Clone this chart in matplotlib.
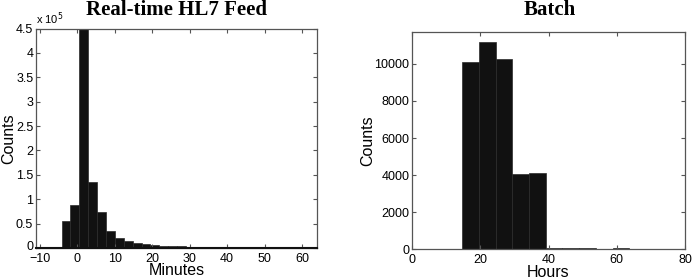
import numpy as np
import matplotlib
matplotlib.use("Agg")
import matplotlib.pyplot as plt
import matplotlib.transforms as mtransforms
from matplotlib.ticker import FuncFormatter

# ---- Data: Real-time HL7 feed (minutes) ----
rt_start = -4.17
rt_width = 2.37
rt_counts = [55000, 89000, 470000, 135500, 73300, 34200, 19800, 14400, 10000,
             8000, 6500, 5000, 4000, 3300, 2700, 2200, 1800, 1500, 1200, 1000,
             900, 800, 700, 600, 500, 400, 350, 300, 250]
rt_xticks = [-10, 0, 10, 20, 30, 40, 50, 60]
rt_yticks = [0, 50000, 100000, 150000, 200000, 250000, 300000, 350000, 400000, 450000]

# ---- Data: Batch (hours) ----
b_start = 0.0
b_width = 4.9
b_counts = [30, 0, 0, 10090, 11170, 10250, 4050, 4100, 70, 60, 90, 20, 50, 40, 20]
b_xticks = [0, 20, 40, 60, 80]
b_yticks = [0, 2000, 4000, 6000, 8000, 10000]

bar_color = '#111111'
spine_color = '#555555'
tick_font = 'Liberation Sans'

fig = plt.figure(figsize=(6.93, 2.8), dpi=100)
ax1 = fig.add_axes([36/693, 1-248/280, (317-36)/693, (248-28.5)/280])
ax2 = fig.add_axes([412/693, 1-249.3/280, (685-412)/693, (249.3-32.3)/280])

def style(ax):
    ax.tick_params(direction='in', top=True, right=True, length=3, width=0.8,
                   color=spine_color, labelsize=9, pad=2)
    ax.tick_params(axis='x', pad=3.5)
    for s in ax.spines.values():
        s.set_color(spine_color)
        s.set_linewidth(0.9)
    for lab in ax.get_xticklabels() + ax.get_yticklabels():
        lab.set_fontfamily(tick_font)

# Left histogram
rt_edges = rt_start + rt_width * np.arange(len(rt_counts))
ax1.bar(rt_edges, rt_counts, width=rt_width, align='edge', color=bar_color,
        edgecolor='#2a2a2a', linewidth=0.5)
ax1.set_xlim(-11, 64)
ax1.set_ylim(0, 450000)
ax1.set_xticks(rt_xticks)
ax1.set_yticks(rt_yticks)
ax1.yaxis.set_major_formatter(FuncFormatter(lambda v, p: '%g' % (v / 1e5)))
ax1.plot([-11, 64], [0, 0], color=bar_color, lw=1.5, clip_on=False, zorder=3)
style(ax1)
# lift the "0" y tick label a touch so it clears the "-10" x tick label
shift = mtransforms.ScaledTranslation(0, 3/100, fig.dpi_scale_trans)
ax1.yaxis.get_major_ticks()[0].label1.set_transform(
    ax1.yaxis.get_major_ticks()[0].label1.get_transform() + shift)
ax1.text(0.0, 1.005, r'x 10$^5$', transform=ax1.transAxes, ha='left', va='bottom',
         fontsize=8, family=tick_font)
ax1.set_xlabel('Minutes', fontsize=11.5, family=tick_font, labelpad=-1)
ax1.set_ylabel('Counts', fontsize=11.5, family=tick_font, labelpad=0)

# Right histogram
b_edges = b_start + b_width * np.arange(len(b_counts))
ax2.bar(b_edges, b_counts, width=b_width, align='edge', color=bar_color,
        edgecolor='#2a2a2a', linewidth=0.5)
ax2.set_xlim(0, 80)
ax2.set_ylim(0, 11700)
ax2.set_xticks(b_xticks)
ax2.set_yticks(b_yticks)
style(ax2)
ax2.set_xlabel('Hours', fontsize=11.5, family=tick_font, labelpad=-1)
ax2.set_ylabel('Counts', fontsize=11.5, family=tick_font, labelpad=-1)

fig.text(176/693, 1-15/280, 'Real-time HL7 Feed', ha='center', va='baseline',
         fontsize=15, fontweight='bold', family='Liberation Serif')
fig.text(550/693, 1-15/280, 'Batch', ha='center', va='baseline',
         fontsize=15, fontweight='bold', family='Liberation Serif')

fig.savefig('out.png', dpi=100)
